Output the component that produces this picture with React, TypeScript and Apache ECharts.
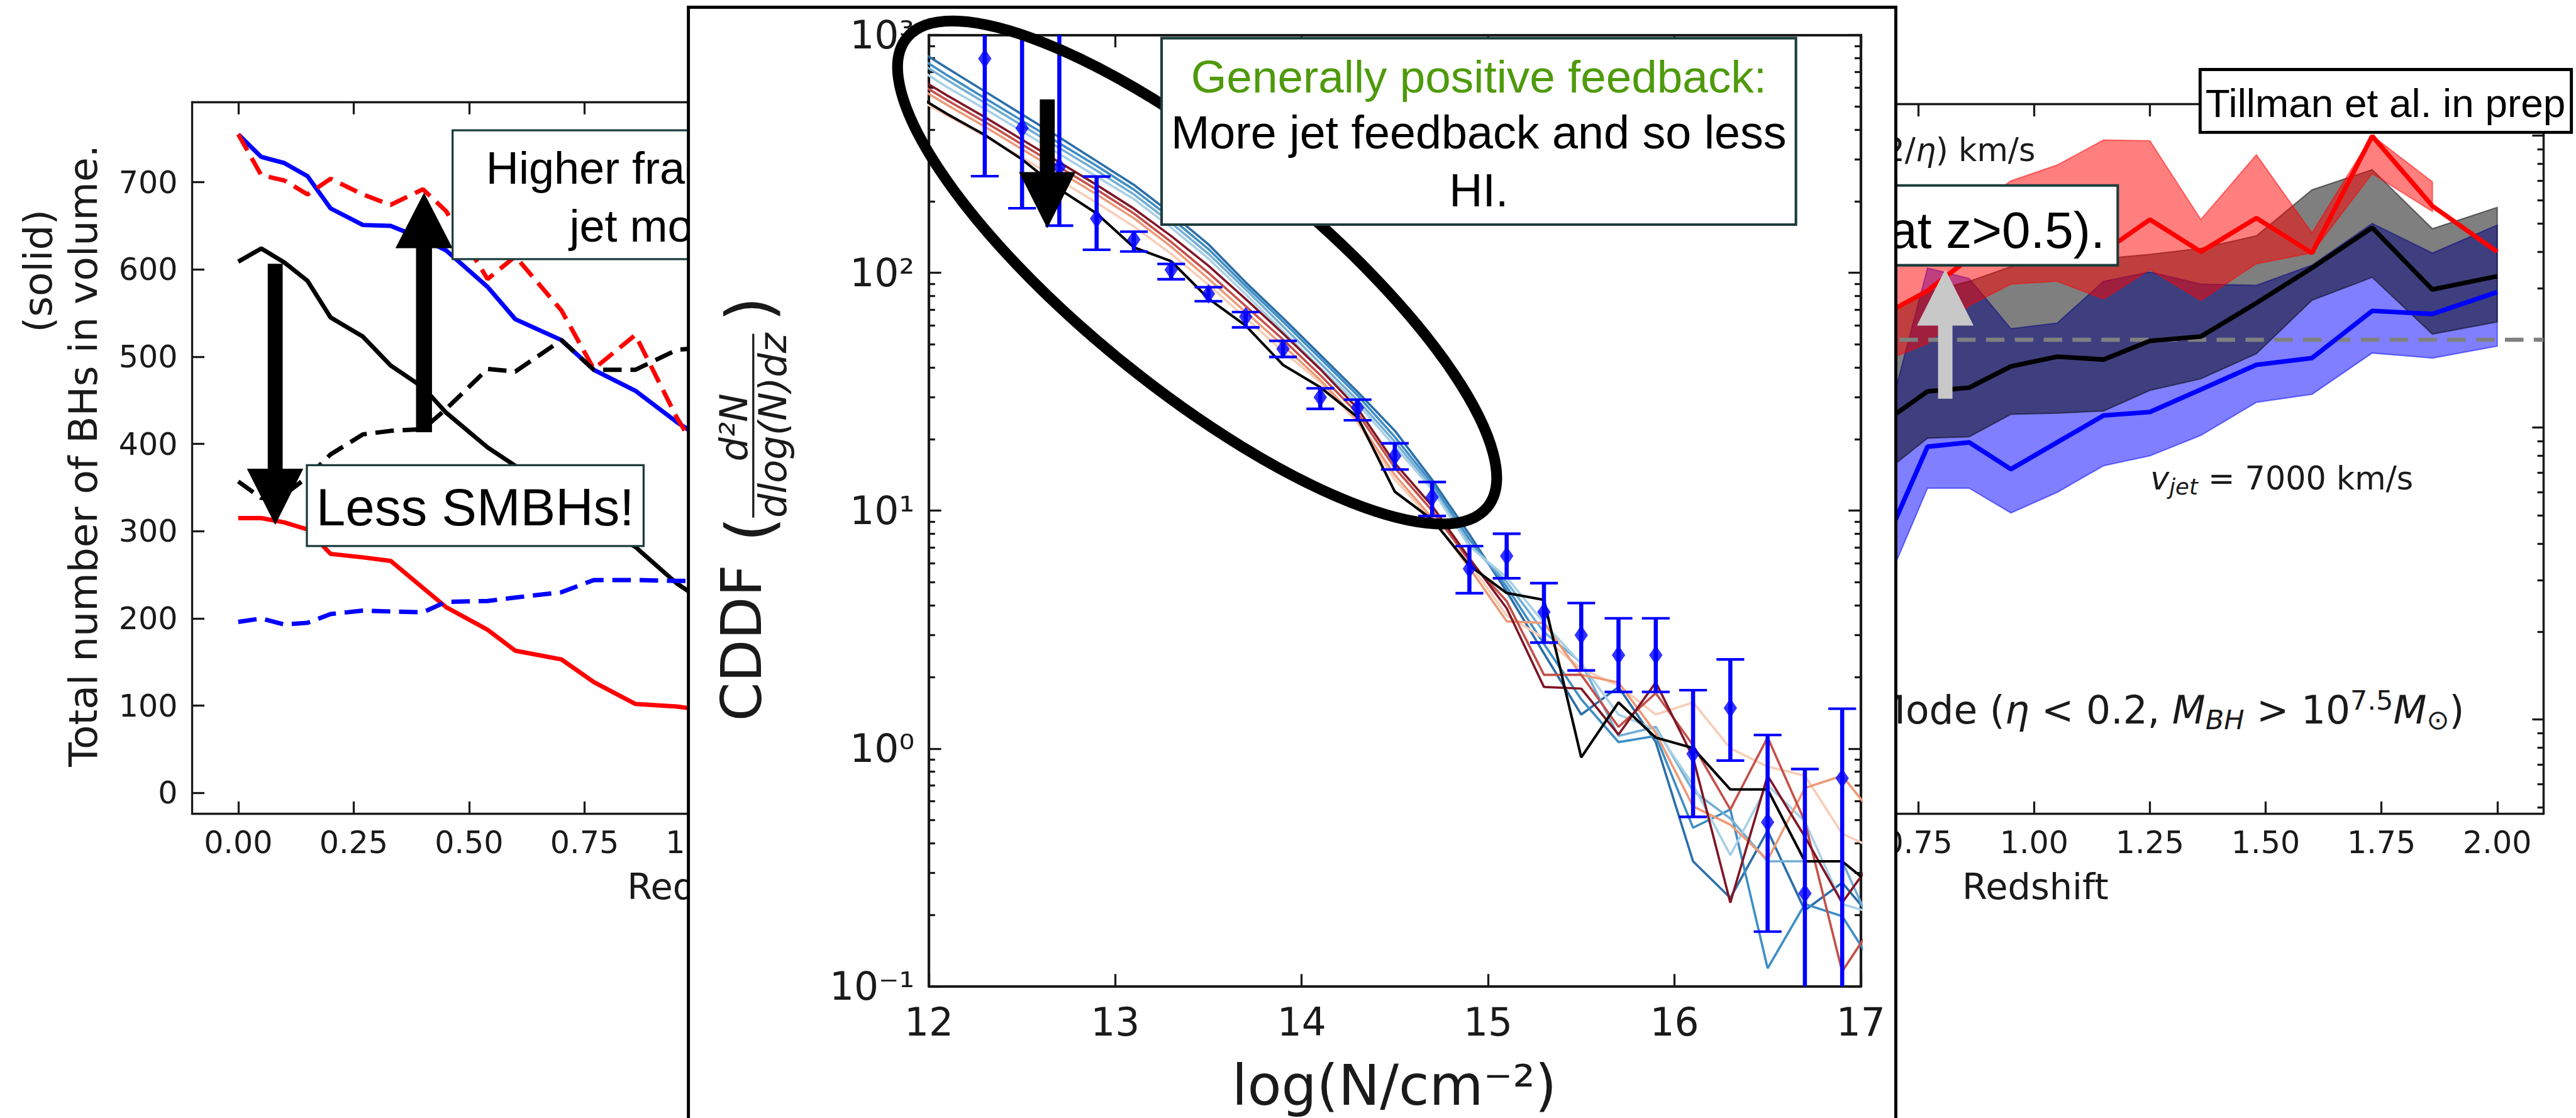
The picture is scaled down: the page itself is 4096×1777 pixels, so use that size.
import React, { useEffect, useRef } from "react";
import * as echarts from "echarts";

const W = 4096;
const H = 1777;
const S = W / 5003;
const p = (v: number) => v * S;

const DV = "'DejaVu Sans', sans-serif";
const LS = "'Liberation Sans', Arial, sans-serif";
const INK = "#1a1a1a";
const BOX = "#1c3c3c";

// ---------------- Left panel: number of BHs vs redshift ----------------
const leftRedshift = [0, 0.05, 0.1, 0.15, 0.2, 0.27, 0.33, 0.4, 0.45, 0.54, 0.6, 0.7, 0.77, 0.86, 0.95, 1.05];
const leftBlueSolid = [755, 729, 722, 707, 670, 651, 650, 635, 622, 580, 543, 519, 485, 461, 425, 390];
const leftRedDashed = [755, 708, 702, 686, 704, 686, 674, 692, 667, 589, 615, 553, 486, 525, 430, 344];
const leftBlackSolid = [609, 624, 608, 587, 545, 523, 490, 465, 436, 396, 375, 340, 312, 282, 240, 205];
const leftBlackDashed = [357, 338, 342, 362, 388, 411, 415, 417, 440, 486, 483, 519, 485, 485, 508, 512];
const leftRedSolid = [315, 315, 310, 302, 274, 270, 266, 235, 213, 187, 163, 153, 127, 102, 99, 92];
const leftBlueDashed = [196, 200, 193, 195, 205, 209, 208, 207, 219, 220, 224, 230, 244, 244, 243, 243];
const redshiftTicks = [0, 0.25, 0.5, 0.75, 1.0, 1.25, 1.5, 1.75, 2.0];
const countTicks = [0, 100, 200, 300, 400, 500, 600, 700];

// ---------------- Right panel: jet velocity bands vs redshift ----------------
const rightRedshift = [0.7, 0.77, 0.86, 0.95, 1.05, 1.15, 1.25, 1.36, 1.48, 1.6, 1.73, 1.86, 2.0];
const rightBlue = [4.8, 8.6, 8.9, 7.2, 8.9, 11.0, 11.3, 13.5, 16.4, 17.3, 25.1, 24.5, 29.1];
const rightBlueHi = [13.3, 35.2, 32.4, 21.8, 22.8, 31.7, 34.1, 31.0, 30.7, 36.0, 50.0, 39.6, 49.4];
const rightBlueLo = [3.4, 6.2, 6.2, 5.1, 6.0, 7.4, 8.0, 9.4, 12.2, 13.0, 18.0, 17.3, 19.0];
const rightBlack = [11.1, 13.3, 13.7, 16.2, 17.5, 17.1, 19.8, 20.5, 26.7, 35.2, 48.4, 29.7, 33.0];
const rightBlackHi = [25.6, 29.1, 31.7, 35.6, 36.8, 37.9, 39.2, 41.1, 45.4, 65.2, 76.5, 48.0, 56.8];
const rightBlackLo = [7.5, 9.2, 9.3, 11.1, 11.2, 11.4, 13.4, 14.7, 17.9, 27.3, 32.7, 20.9, 23.0];
const rightRed = [25.6, 29.4, 38, 40, 42, 40, 51.6, 40.0, 52.2, 39.6, 99.7, 57.4, 40.0];
const rightRedHi: (number | null)[] = [38, 45, 55, 70, 79.3, 96.6, 96, 51.6, 86, 46.4, 100, 69.5, null];
const rightRedLo: (number | null)[] = [17.5, 19.4, 26.2, 31.0, 31.7, 27.6, 34.8, 27.3, 36.4, 39.7, 74.1, 55, null];
const rightThreshold = 20;
const rightYMin = 0.475;
const rightYMax = 128.3;
const rightMajor = [1, 10, 100];
const rightMinor = [0.5, 0.6, 0.7, 0.8, 0.9, 2, 3, 4, 5, 6, 7, 8, 9, 20, 30, 40, 50, 60, 70, 80, 90];

// ---------------- Middle panel: CDDF ----------------
const cddfObsX = [12.3, 12.5, 12.7, 12.9, 13.1, 13.3, 13.5, 13.7, 13.9, 14.1, 14.3, 14.5, 14.7, 14.9, 15.1, 15.3, 15.5, 15.7, 15.9, 16.1, 16.3, 16.5, 16.7, 16.9];
const cddfObs = [796, 406, 278, 169, 138, 103, 81.6, 65.4, 47.9, 30.0, 27.1, 17.0, 11.4, 5.7, 6.45, 3.75, 3.0, 2.47, 2.47, 0.95, 1.48, 0.49, 0.246, 0.75];
const cddfObsLo = [255, 187, 158, 125, 123, 94, 76, 59, 44.3, 26.8, 24.0, 14.9, 9.5, 4.5, 5.2, 2.79, 2.13, 1.73, 1.73, 0.516, 0.89, 0.17, 0.05, 0.05];
const cddfObsHi = [2500, 2500, 2500, 254, 149, 109, 87, 68.4, 51.8, 32.7, 29.3, 19.2, 13.2, 7.1, 8.0, 4.96, 4.09, 3.53, 3.53, 1.76, 2.37, 1.14, 0.82, 1.47];

const cddfGrid = [11.9, 12.1, 12.3, 12.5, 12.7, 12.9, 13.1, 13.3, 13.5, 13.7, 13.9, 14.1, 14.3, 14.5, 14.7, 14.9, 15.1, 15.3, 15.5, 15.7, 15.9, 16.1, 16.3, 16.5, 16.7, 16.9, 17.1];
// model curves, log10(CDDF)
const modelBlue1Log = [2.958, 2.86, 2.763, 2.666, 2.57, 2.47, 2.37, 2.25, 2.12, 1.96, 1.81, 1.655, 1.5, 1.336, 1.13, 0.9, 0.66, 0.40, 0.143, 0.259, 0.027, -0.474, -0.628, -0.345, -0.68, -0.564, -0.75];
const modelBlue2Log = [2.93, 2.83, 2.735, 2.64, 2.545, 2.45, 2.35, 2.23, 2.10, 1.945, 1.795, 1.64, 1.485, 1.31, 1.115, 0.88, 0.68, 0.44, 0.207, 0.027, 0.053, -0.333, -0.256, -0.924, -0.654, -0.705, -0.95];
const modelBlue3Log = [2.91, 2.81, 2.715, 2.62, 2.525, 2.43, 2.33, 2.21, 2.08, 1.93, 1.775, 1.62, 1.465, 1.29, 1.10, 0.86, 0.70, 0.49, 0.361, 0.053, 0.091, -0.178, -0.294, -0.474, -0.474, -0.474, -0.82];
const modelBlue4Log = [2.88, 2.78, 2.69, 2.595, 2.50, 2.405, 2.31, 2.19, 2.06, 1.91, 1.755, 1.60, 1.45, 1.27, 1.09, 0.85, 0.72, 0.528, 0.356, 0.143, 0.08, -0.153, -0.448, -0.153, -0.307, -0.654, -0.70];
const modelMaroonLog = [2.84, 2.745, 2.655, 2.56, 2.465, 2.37, 2.27, 2.155, 2.03, 1.89, 1.745, 1.595, 1.43, 1.20, 1.02, 0.80, 0.59, 0.259, 0.252, 0.059, 0.278, -0.037, -0.648, -0.114, -0.371, -0.648, -0.43];
const modelRedLog = [2.82, 2.725, 2.635, 2.54, 2.445, 2.35, 2.25, 2.13, 2.00, 1.86, 1.72, 1.57, 1.41, 1.18, 1.00, 0.79, 0.62, 0.31, 0.31, 0.091, 0.233, 0.014, -0.256, 0.047, -0.307, -0.937, -0.70];
const modelSalmonLog = [2.80, 2.705, 2.615, 2.52, 2.425, 2.33, 2.23, 2.11, 1.975, 1.835, 1.695, 1.55, 1.38, 1.15, 0.97, 0.76, 0.535, 0.528, 0.31, 0.278, 0.066, -0.243, -0.32, -0.468, -0.166, -0.114, -0.31];
const modelPeachLog = [2.75, 2.66, 2.575, 2.485, 2.39, 2.295, 2.195, 2.08, 1.95, 1.81, 1.67, 1.54, 1.37, 1.13, 0.96, 0.78, 0.56, 0.464, 0.336, 0.265, 0.143, 0.194, 0.001, -0.076, -0.114, -0.358, -0.43];
const modelBlackLog = [2.762, 2.667, 2.58, 2.477, 2.352, 2.25, 2.107, 2.049, 1.892, 1.778, 1.613, 1.519, 1.394, 1.08, 0.963, 0.77, 0.654, 0.625, -0.037, 0.194, 0.046, 0.002, -0.172, -0.172, -0.474, -0.474, -0.602];
const cddfDecades = [-1, 0, 1, 2, 3];
const cddfDecadeLabels = ["10⁻¹", "10⁰", "10¹", "10²", "10³"];
const minorMultipliers = [2, 3, 4, 5, 6, 7, 8, 9];

const zip = (xs: number[], ys: number[]) => xs.map((x, i) => [x, ys[i]]);

// ---------------- graphic helpers ----------------
const poly = (pts: number[][], fill: string) => ({
  type: "polygon", z: 100, silent: true,
  shape: { points: pts.map(([x, y]) => [p(x), p(y)]) },
  style: { fill },
});
const box = (x: number, y: number, w: number, h: number, stroke: string, lw: number) => ({
  type: "rect", z: 100, silent: true,
  shape: { x: p(x), y: p(y), width: p(w), height: p(h) },
  style: { fill: "#fff", stroke, lineWidth: p(lw) },
});
const txt = (x: number, y: number, text: string, size: number, extra: any = {}, el: any = {}) => ({
  type: "text", z: 101, silent: true, x: p(x), y: p(y), ...el,
  style: { text, fontSize: p(size), fontFamily: LS, fill: "#000", align: "center", verticalAlign: "middle", ...extra },
});
const mathRich = (size: number) => ({
  n: { fontSize: p(size), fontFamily: DV, fill: INK, verticalAlign: "middle" },
  i: { fontSize: p(size), fontFamily: DV, fontStyle: "italic", fill: INK, verticalAlign: "middle" },
  sub: { fontSize: p(size * 0.7), fontFamily: DV, fontStyle: "italic", fill: INK, verticalAlign: "middle", padding: [p(size * 0.5), 0, 0, 0] },
  subn: { fontSize: p(size * 0.7), fontFamily: DV, fill: INK, verticalAlign: "middle", padding: [p(size * 0.5), 0, 0, 0] },
  sup: { fontSize: p(size * 0.7), fontFamily: DV, fill: INK, verticalAlign: "middle", padding: [0, 0, p(size * 0.5), 0] },
});

function optionSides(): any {
  const axisLine = { show: true, onZero: false, lineStyle: { color: INK, width: p(4) } };
  const xAx = (grid: number, pos: string, labels: boolean) => ({
    type: "value", gridIndex: grid, position: pos, min: -0.1, max: 2.1,
    axisLine, splitLine: { show: false },
    axisTick: { show: true, inside: true, length: p(24), lineStyle: { color: INK, width: p(4) }, customValues: redshiftTicks },
    axisLabel: labels
      ? { show: true, customValues: redshiftTicks, formatter: (v: number) => v.toFixed(2), fontSize: p(60), fontFamily: DV, color: INK, margin: p(26) }
      : { show: false },
  });
  const rLog = (v: number) => Math.log10(v);
  const rightY = (pos: string, ticks: number[], len: number) => ({
    type: "value", gridIndex: 1, position: pos, min: rLog(rightYMin), max: rLog(rightYMax),
    axisLine, splitLine: { show: false },
    axisTick: { show: true, inside: true, length: p(len), lineStyle: { color: INK, width: p(4) }, customValues: ticks.map(rLog) },
    axisLabel: { show: false },
  });
  const band = (lo: (number | null)[], hi: (number | null)[], color: string) => ({
    type: "custom", xAxisIndex: 2, yAxisIndex: 2, clip: true, z: 2, silent: true,
    data: [[1, 1]],
    renderItem: (_params: any, api: any) => {
      const top: number[][] = [];
      const bot: number[][] = [];
      rightRedshift.forEach((x, i) => {
        const h = hi[i];
        const l = lo[i];
        if (h == null || l == null) return;
        top.push(api.coord([x, Math.log10(h)]));
        bot.push(api.coord([x, Math.log10(l)]));
      });
      return {
        type: "polygon",
        shape: { points: top.concat(bot.reverse()) },
        style: { fill: color, stroke: color, lineWidth: p(2.5) },
      };
    },
  });
  const leftLine = (ys: number[], color: string, dashed: boolean) => ({
    type: "line", xAxisIndex: 0, yAxisIndex: 0, data: zip(leftRedshift, ys), symbol: "none", z: 3,
    lineStyle: { color, width: p(8.5), type: dashed ? [p(36), p(17)] : "solid" },
  });
  const rightLine = (ys: number[], color: string) => ({
    type: "line", xAxisIndex: 2, yAxisIndex: 2, data: rightRedshift.map((x, i) => [x, Math.log10(ys[i])]),
    symbol: "none", z: 4, lineStyle: { color, width: p(9) },
  });

  return {
    animation: false,
    textStyle: { fontFamily: DV },
    grid: [
      { left: p(373), top: p(198), width: p(1973), height: p(1382) },
      { left: p(2961), top: p(202), width: p(1979), height: p(1378) },
    ],
    xAxis: [xAx(0, "bottom", true), xAx(0, "top", false), xAx(1, "bottom", true), xAx(1, "top", false)],
    yAxis: [
      {
        type: "value", gridIndex: 0, position: "left", min: -24, max: 792,
        axisLine, splitLine: { show: false },
        axisTick: { show: true, inside: true, length: p(24), lineStyle: { color: INK, width: p(4) }, customValues: countTicks },
        axisLabel: { show: true, customValues: countTicks, fontSize: p(60), fontFamily: DV, color: INK, margin: p(28) },
      },
      rightY("left", rightMajor, 22),
      rightY("right", rightMajor, 22),
      rightY("right", rightMinor, 12),
    ],
    series: [
      leftLine(leftBlueSolid, "#0000ff", false),
      leftLine(leftRedDashed, "#ff0000", true),
      leftLine(leftBlackSolid, "#000000", false),
      leftLine(leftBlackDashed, "#000000", true),
      leftLine(leftRedSolid, "#ff0000", false),
      leftLine(leftBlueDashed, "#0000ff", true),
      band(rightBlueLo, rightBlueHi, "rgba(0,0,255,0.5)"),
      band(rightBlackLo, rightBlackHi, "rgba(0,0,0,0.5)"),
      band(rightRedLo, rightRedHi, "rgba(255,0,0,0.5)"),
      {
        type: "line", xAxisIndex: 2, yAxisIndex: 2, symbol: "none", z: 3,
        data: [[-0.1, Math.log10(rightThreshold)], [2.1, Math.log10(rightThreshold)]],
        lineStyle: { color: "#808080", width: p(8), type: [p(36), p(20)] },
      },
      rightLine(rightBlue, "#0000ff"),
      rightLine(rightBlack, "#000000"),
      rightLine(rightRed, "#ff0000"),
    ],
    graphic: [
      // left panel labels
      txt(73, 526, "(solid)", 77, { fontFamily: DV, fill: INK }, { rotation: Math.PI / 2 }),
      txt(161, 885, "Total number of BHs in volume.", 77, { fontFamily: DV, fill: INK }, { rotation: Math.PI / 2 }),
      txt(1360, 1722, "Redshift", 70, { fontFamily: DV, fill: INK }),
      // left panel annotations
      poly([[520, 512], [549, 512], [549, 910], [589, 910], [534.5, 1019], [479.5, 910], [520, 910]], "#000"),
      poly([[808, 839], [839, 839], [839, 482], [879, 482], [823.5, 374], [768, 482], [808, 482]], "#000"),
      box(879, 253, 1100, 250, BOX, 4),
      txt(944, 326, "Higher fraction of BHs in", 88, { align: "left" }),
      txt(1106, 438, "jet mode.", 88, { align: "left" }),
      box(596, 903, 654, 157, BOX, 4),
      txt(923, 984, "Less SMBHs!", 102),
      // right panel labels
      txt(3953, 291, "{n|(2/}{i|η}{n|) km/s}", 62, { align: "right", rich: mathRich(62) }),
      txt(4687, 929, "{i|v}{sub|jet}{n| = 7000 km/s}", 62, { align: "right", rich: mathRich(62) }),
      txt(4786, 1378, "{n|Jet Mode (}{i|η}{n| < 0.2, }{i|M}{sub|BH}{n| > 10}{sup|7.5}{i|M}{subn|⊙}{n|)}", 75, { align: "right", rich: mathRich(75) }),
      txt(3953, 1722, "Redshift", 70, { fontFamily: DV, fill: INK }),
      // right panel annotations
      box(3300, 360, 813, 155, BOX, 5),
      txt(4088, 446, "(at z>0.5).", 100, { align: "right" }),
      poly([[3764, 774], [3792, 774], [3792, 632], [3833, 632], [3778, 523], [3723, 632], [3764, 632]], "#c8c8c8"),
      box(4273, 135, 721, 122, "#000", 6),
      txt(4633, 200, "Tillman et al. in prep", 78),
    ],
  };
}

function optionMiddle(): any {
  const axisLine = { show: true, onZero: false, lineStyle: { color: INK, width: p(5) } };
  const minorLogs: number[] = [];
  cddfDecades.forEach((d) => minorMultipliers.forEach((m) => {
    const v = d + Math.log10(m);
    if (v < 3) minorLogs.push(v);
  }));
  const xAx = (pos: string, labels: boolean) => ({
    type: "value", position: pos, min: 12, max: 17, interval: 1,
    axisLine, splitLine: { show: false },
    axisTick: { show: true, inside: true, length: p(24), lineStyle: { color: INK, width: p(4) } },
    axisLabel: labels ? { show: true, fontSize: p(75), fontFamily: DV, color: INK, margin: p(32) } : { show: false },
  });
  const yAx = (pos: string, ticks: number[], len: number, labels: boolean) => ({
    type: "value", position: pos, min: -1, max: 3, interval: 1,
    axisLine, splitLine: { show: false },
    axisTick: { show: true, inside: true, length: p(len), lineStyle: { color: INK, width: p(4) }, customValues: ticks },
    axisLabel: labels
      ? {
          show: true, customValues: cddfDecades, fontSize: p(75), fontFamily: DV, color: INK, margin: p(28),
          formatter: (v: number) => cddfDecadeLabels[cddfDecades.indexOf(Math.round(v))] ?? "",
        }
      : { show: false },
  });
  const model = (ys: number[], color: string, w: number) => ({
    type: "line", data: zip(cddfGrid, ys), symbol: "none", z: 2, clip: true,
    lineStyle: { color, width: p(w) },
  });
  const yLabelGroup = {
    type: "group", x: p(1441), y: p(1000), rotation: Math.PI / 2, z: 101, silent: true,
    children: [
      { type: "text", x: p(-400), y: 0, style: { text: "CDDF", fontSize: p(108), fontFamily: DV, fill: INK, align: "left", verticalAlign: "middle" } },
      { type: "text", x: p(-28), y: p(14), style: { text: "(", fontSize: p(125), fontFamily: DV, fill: INK, align: "center", verticalAlign: "middle" } },
      { type: "text", x: p(170), y: p(-16), style: { text: "d²N", fontSize: p(74), fontFamily: DV, fontStyle: "italic", fill: INK, align: "center", verticalAlign: "middle" } },
      { type: "line", shape: { x1: p(-5), y1: p(22), x2: p(352), y2: p(22) }, style: { stroke: INK, lineWidth: p(4) } },
      { type: "text", x: p(174), y: p(60), style: { text: "dlog(N)dz", fontSize: p(74), fontFamily: DV, fontStyle: "italic", fill: INK, align: "center", verticalAlign: "middle" } },
      { type: "text", x: p(400), y: p(14), style: { text: ")", fontSize: p(125), fontFamily: DV, fill: INK, align: "center", verticalAlign: "middle" } },
    ],
  };

  return {
    animation: false,
    textStyle: { fontFamily: DV },
    grid: { left: p(1804), top: p(68), width: p(1810), height: p(1847) },
    xAxis: [xAx("bottom", true), xAx("top", false)],
    yAxis: [
      yAx("left", cddfDecades, 24, true),
      yAx("left", minorLogs, 12, false),
      yAx("right", cddfDecades, 24, false),
      yAx("right", minorLogs, 12, false),
    ],
    series: [
      model(modelBlue1Log, "#2b6ea8", 4.5),
      model(modelBlue2Log, "#3f8ec4", 4.5),
      model(modelBlue3Log, "#72aed4", 4.5),
      model(modelBlue4Log, "#a8d0e6", 4.5),
      model(modelPeachLog, "#f8cdb6", 4.5),
      model(modelSalmonLog, "#ec9a78", 4.5),
      model(modelRedLog, "#c4504a", 4.5),
      model(modelMaroonLog, "#7f1626", 4.5),
      model(modelBlackLog, "#000000", 5),
      {
        type: "custom", z: 4, silent: true,
        data: cddfObsX.map((x, i) => [x, Math.log10(cddfObsLo[i]), Math.log10(cddfObsHi[i])]),
        encode: { x: 0, y: [1, 2] },
        renderItem: (params: any, api: any) => {
          const cs = params.coordSys;
          const yTop = cs.y;
          const yBot = cs.y + cs.height;
          const x = api.value(0);
          const lo = api.coord([x, api.value(1)]);
          const hi = api.coord([x, api.value(2)]);
          const cap = p(27);
          const children: any[] = [
            { type: "line", shape: { x1: lo[0], y1: Math.max(hi[1], yTop), x2: lo[0], y2: Math.min(lo[1], yBot) }, style: { stroke: "#0000ff", lineWidth: p(8) } },
          ];
          if (hi[1] >= yTop) children.push({ type: "line", shape: { x1: hi[0] - cap, y1: hi[1], x2: hi[0] + cap, y2: hi[1] }, style: { stroke: "#0000ff", lineWidth: p(5) } });
          if (lo[1] <= yBot) children.push({ type: "line", shape: { x1: lo[0] - cap, y1: lo[1], x2: lo[0] + cap, y2: lo[1] }, style: { stroke: "#0000ff", lineWidth: p(5) } });
          return { type: "group", children };
        },
      },
      {
        type: "scatter", z: 5, symbol: "diamond", symbolSize: [p(26), p(38)],
        data: cddfObsX.map((x, i) => [x, Math.log10(cddfObs[i])]),
        itemStyle: { color: "#0000ff" },
      },
    ],
    graphic: [
      { type: "rect", z: 99, silent: true, shape: { x: p(1337), y: p(14), width: p(2345), height: p(2400) }, style: { fill: "none", stroke: "#000", lineWidth: p(6) } },
      {
        type: "ellipse", z: 100, silent: true, x: p(2325), y: p(529), rotation: -(38.9 * Math.PI) / 180,
        shape: { cx: 0, cy: 0, rx: p(725), ry: p(226) },
        style: { fill: "none", stroke: "#000", lineWidth: p(21) },
      },
      poly([[2019.5, 193], [2048.5, 193], [2048.5, 334], [2089, 334], [2034, 443], [1979, 334], [2019.5, 334]], "#000"),
      box(2256, 74, 1232, 362, BOX, 5),
      txt(2872, 148, "Generally positive feedback:", 89, { fill: "#4f9a0c" }),
      txt(2872, 257, "More jet feedback and so less", 90),
      txt(2872, 369, "HI.", 90),
      yLabelGroup,
      txt(2708, 2108, "log(N/cm⁻²)", 108, { fontFamily: DV, fill: INK }),
    ],
  };
}

export default function App() {
  const refA = useRef<HTMLDivElement>(null);
  const refB = useRef<HTMLDivElement>(null);
  useEffect(() => {
    document.body.style.margin = "0";
    const a = echarts.init(refA.current as HTMLDivElement, null, { renderer: "svg" });
    a.setOption(optionSides());
    const b = echarts.init(refB.current as HTMLDivElement, null, { renderer: "svg" });
    b.setOption(optionMiddle());
    return () => {
      a.dispose();
      b.dispose();
    };
  }, []);
  return (
    <div style={{ position: "fixed", left: 0, top: 0, width: W, height: H, background: "#fff", overflow: "hidden" }}>
      <div ref={refA} style={{ position: "absolute", left: 0, top: 0, width: W, height: H }} />
      <div style={{ position: "absolute", left: p(1337), top: p(14), width: p(2345), height: H, background: "#fff" }} />
      <div ref={refB} style={{ position: "absolute", left: 0, top: 0, width: W, height: H }} />
    </div>
  );
}
